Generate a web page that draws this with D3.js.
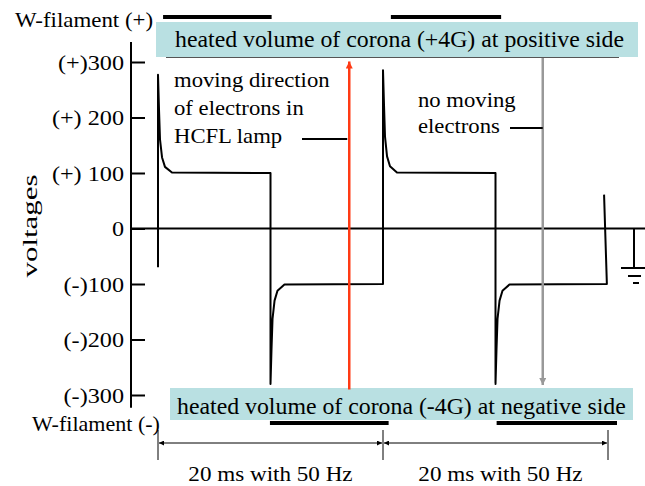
<!DOCTYPE html>
<html>
<head>
<meta charset="utf-8">
<script src="https://cdn.jsdelivr.net/npm/d3@7"></script>
</head>
<body style="margin:0; background:#fff">
<div class="wrapper"></div>
<script>
// tick values and their labels
var tickValues = [300, 200, 100, 0, -100, -200, -300];
var tickLabels = ["(+)300", "(+) 200", "(+) 100", "0", "(-)100", "(-)200", "(-)300"];

// waveform: [time in ms, volts]
var wave = [
  [0, -70], [0, 277], [0.09, 214], [0.18, 160], [0.36, 128], [0.62, 111], [1.24, 101], [10, 100],
  [10, -280], [10.09, -217], [10.18, -163], [10.36, -130], [10.62, -112], [11.24, -101], [20, -100],
  [20, 285], [20.09, 222], [20.18, 165], [20.36, 130], [20.62, 112], [21.24, 101], [30, 100],
  [30, -280], [30.09, -217], [30.18, -163], [30.36, -130], [30.62, -112], [31.24, -101], [39.9, -100],
  [39.65, 61]
];

// heated filament periods (ms)
var filamentPlus = [[0.45, 10.1], [20.7, 30.5]];
var filamentMinus = [[9.95, 20.5], [30.1, 40.8]];

// period markers (ms)
var periodTicks = [0, 20, 40];
var periodLabels = ["20 ms with 50 Hz", "20 ms with 50 Hz"];

var serif = "Liberation Serif";
var width = 645,
    height = 486;

var x = d3.scaleLinear().domain([0, 40]).range([158, 608]);
var y = d3.scaleLinear().domain([-300, 300]).range([395, 62]);

var svg = d3.select(".wrapper").append("svg")
    .attr("width", width)
    .attr("height", height)
    .style("font-family", serif);

// the original lettering is a bit wider than the font
function stretch(sel, k) {
    sel.each(function() {
        var w = this.getComputedTextLength();
        d3.select(this).attr("textLength", w * k).attr("lengthAdjust", "spacingAndGlyphs");
    });
}

function label(xp, yp, size, txt) {
    return svg.append("text")
        .attr("x", xp).attr("y", yp)
        .style("font-family", serif)
        .style("font-size", size + "px")
        .text(txt);
}

var defs = svg.append("defs");
function marker(id, color, w, h, orient) {
    defs.append("marker")
        .attr("id", id)
        .attr("viewBox", "0 0 10 10")
        .attr("refX", 10).attr("refY", 5)
        .attr("markerUnits", "userSpaceOnUse")
        .attr("markerWidth", w).attr("markerHeight", h)
        .attr("orient", orient)
        .append("path")
        .attr("d", "M0,0L10,5L0,10z")
        .attr("fill", color);
}
marker("redHead", "#ff3a14", 10, 7, "auto");
marker("grayHead", "#999", 10, 7, "auto");
marker("dimHead", "#000", 7, 5, "auto-start-reverse");

// boxes with corona labels
svg.append("rect")
    .attr("x", 156).attr("y", 22).attr("width", 482).attr("height", 35)
    .attr("fill", "#b9e0e2");
svg.append("line")
    .attr("x1", 166).attr("x2", 619).attr("y1", 57.5).attr("y2", 57.5)
    .attr("stroke", "#555").attr("stroke-width", 1);
stretch(label(175, 47, 23, "heated volume of corona (+4G) at positive side"), 1.035);

svg.append("rect")
    .attr("x", 170).attr("y", 388).attr("width", 463).attr("height", 32)
    .attr("fill", "#b9e0e2");
stretch(label(177, 414, 23, "heated volume of corona (-4G) at negative side"), 1.035);

// filament bars
svg.selectAll(".barPlus")
    .data(filamentPlus)
    .enter().append("line")
    .attr("x1", function(d) { return x(d[0]); })
    .attr("x2", function(d) { return x(d[1]); })
    .attr("y1", 17).attr("y2", 17)
    .attr("stroke", "#000").attr("stroke-width", 4);

svg.selectAll(".barMinus")
    .data(filamentMinus)
    .enter().append("line")
    .attr("x1", function(d) { return x(d[0]); })
    .attr("x2", function(d) { return x(d[1]); })
    .attr("y1", 423).attr("y2", 423)
    .attr("stroke", "#000").attr("stroke-width", 4);

stretch(label(15, 27, 21, "W-filament (+)"), 1.09);
stretch(label(32, 431, 21, "W-filament (-)"), 1.05);

// y axis
var yAxis = d3.axisLeft(y)
    .tickValues(tickValues)
    .tickFormat(function(d, i) { return tickLabels[i]; })
    .tickSizeInner(-14)
    .tickSizeOuter(0)
    .tickPadding(7);

var gAxis = svg.append("g")
    .attr("transform", "translate(131,0)")
    .call(yAxis)
    .attr("font-family", serif);
gAxis.select(".domain").remove();
gAxis.selectAll(".tick line").attr("stroke", "#000").attr("stroke-width", 2);
gAxis.selectAll(".tick text")
    .attr("fill", "#000")
    .style("font-family", serif)
    .style("font-size", "22px")
    .call(stretch, 1.1);

svg.append("line")
    .attr("x1", 131).attr("x2", 131)
    .attr("y1", y(336)).attr("y2", y(-323))
    .attr("stroke", "#000").attr("stroke-width", 2);

// zero line
svg.append("line")
    .attr("x1", 131).attr("x2", 645)
    .attr("y1", y(0)).attr("y2", y(0))
    .attr("stroke", "#000").attr("stroke-width", 2);

svg.append("text")
    .attr("transform", "translate(37,226) rotate(-90)")
    .attr("text-anchor", "middle")
    .attr("textLength", 103)
    .attr("lengthAdjust", "spacingAndGlyphs")
    .style("font-family", serif)
    .style("font-size", "22px")
    .text("voltages");

// ground symbol
var gx = 634;
svg.append("line").attr("x1", gx).attr("x2", gx).attr("y1", y(0)).attr("y2", 268)
    .attr("stroke", "#000").attr("stroke-width", 2);
[[621, 646, 268], [628, 641, 276], [633, 639, 283]].forEach(function(g) {
    svg.append("line").attr("x1", g[0]).attr("x2", g[1]).attr("y1", g[2]).attr("y2", g[2])
        .attr("stroke", "#000").attr("stroke-width", 2);
});

// waveform
var line = d3.line()
    .x(function(d) { return x(d[0]); })
    .y(function(d) { return y(d[1]); });

svg.append("path")
    .datum(wave)
    .attr("d", line)
    .attr("fill", "none")
    .attr("stroke", "#000")
    .attr("stroke-width", 2)
    .attr("stroke-linejoin", "round");

// electron direction arrows
svg.append("line")
    .attr("x1", x(17)).attr("x2", x(17))
    .attr("y1", y(-290)).attr("y2", y(301))
    .attr("stroke", "#ff3a14").attr("stroke-width", 2.5)
    .attr("marker-end", "url(#redHead)");

svg.append("line")
    .attr("x1", x(34.2)).attr("x2", x(34.2))
    .attr("y1", 58).attr("y2", y(-282))
    .attr("stroke", "#999").attr("stroke-width", 2.5)
    .attr("marker-end", "url(#grayHead)");

// annotations
["moving direction", "of electrons in", "HCFL lamp"].forEach(function(t, i) {
    stretch(label(174, 87 + i * 28, 21, t), 1.08);
});
svg.append("line").attr("x1", 302).attr("x2", x(17) - 2).attr("y1", 139).attr("y2", 139)
    .attr("stroke", "#000").attr("stroke-width", 2);

["no moving", "electrons"].forEach(function(t, i) {
    stretch(label(418, 107 + i * 26, 21, t), 1.08);
});
svg.append("line").attr("x1", 510).attr("x2", x(34.2)).attr("y1", 128).attr("y2", 128)
    .attr("stroke", "#000").attr("stroke-width", 2);

// period dimension lines
svg.selectAll(".ptick")
    .data(periodTicks)
    .enter().append("line")
    .attr("x1", function(d) { return x(d); })
    .attr("x2", function(d) { return x(d); })
    .attr("y1", 430).attr("y2", 460)
    .attr("stroke", "#000").attr("stroke-width", 1);

svg.selectAll(".pdim")
    .data(periodLabels)
    .enter().append("line")
    .attr("x1", function(d, i) { return x(periodTicks[i]) + 1; })
    .attr("x2", function(d, i) { return x(periodTicks[i + 1]) - 1; })
    .attr("y1", 443).attr("y2", 443)
    .attr("stroke", "#000").attr("stroke-width", 1)
    .attr("marker-start", "url(#dimHead)")
    .attr("marker-end", "url(#dimHead)");

svg.selectAll(".plabel")
    .data(periodLabels)
    .enter().append("text")
    .attr("x", function(d, i) { return (x(periodTicks[i]) + x(periodTicks[i + 1])) / 2 + i * 5; })
    .attr("y", 481)
    .attr("text-anchor", "middle")
    .style("font-family", serif)
    .style("font-size", "21px")
    .text(function(d) { return d; })
    .call(stretch, 1.1);
</script>
</body>
</html>
